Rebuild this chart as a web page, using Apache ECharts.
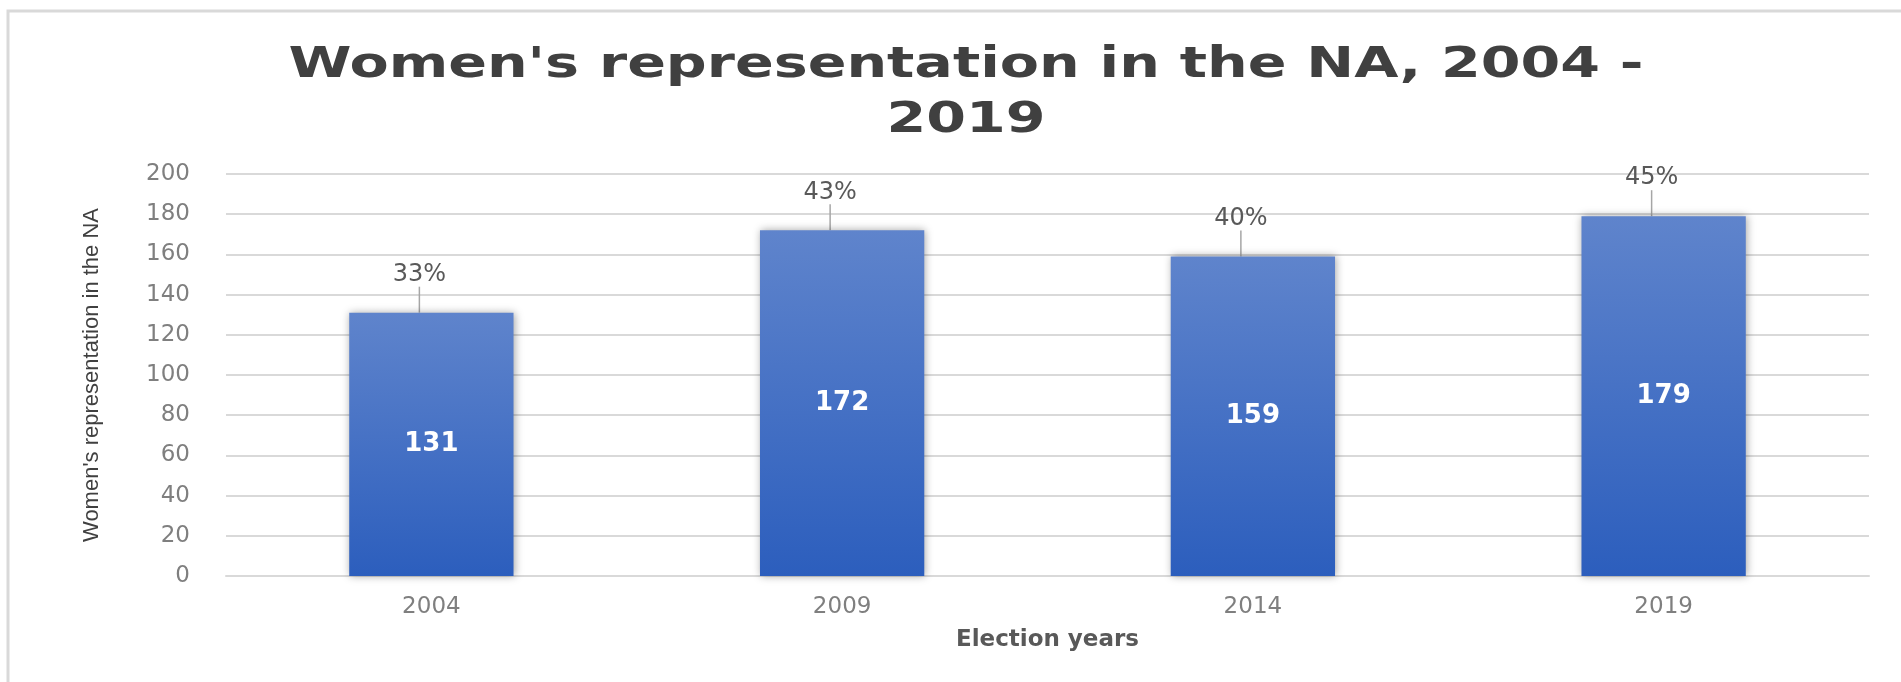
<!DOCTYPE html>
<html>
<head>
<meta charset="utf-8">
<title>Women's representation in the NA</title>
<script src="https://cdn.jsdelivr.net/npm/echarts@6/dist/echarts.min.js"></script>
<style>
  html, body { margin: 0; padding: 0; background: #fff; }
  #chart { width: 1901px; height: 682px; }
</style>
</head>
<body>
<div id="chart"></div>
<script>
// 数据
var years = ['2004', '2009', '2014', '2019'];
var womenSeats = [131, 172, 159, 179];
var womenShare = ['33%', '43%', '40%', '45%'];

var myChart = echarts.init(document.getElementById('chart'));

var barFill = new echarts.graphic.LinearGradient(0, 0, 0, 1, [
  { offset: 0, color: '#5f84cc' },
  { offset: 1, color: '#2c5ebd' }
]);

var option = {
  backgroundColor: '#fff',
  animation: false,
  graphic: [
    {
      type: 'rect',
      z: -10,
      shape: { x: 8, y: 11, width: 2000, height: 1000 },
      style: { fill: 'none', stroke: '#d9d9d9', lineWidth: 3 }
    },
    {
      // title, stretched like the reference
      type: 'text',
      x: 966,
      y: 94,
      scaleX: 1.36,
      style: {
        text: "Women's representation in the NA, 2004 -\n2019",
        font: 'bold 42px "DejaVu Sans"',
        fill: '#404040',
        textAlign: 'center',
        textVerticalAlign: 'middle',
        lineHeight: 55
      }
    }
  ],
  grid: { left: 226, right: 32, top: 174, bottom: 106 },
  xAxis: {
    type: 'category',
    data: years,
    axisTick: { show: false },
    axisLine: { lineStyle: { color: '#d9d9d9', width: 2 } },
    axisLabel: {
      margin: 20,
      color: '#7f7f7f',
      fontSize: 23,
      fontFamily: 'DejaVu Sans'
    },
    name: 'Election years',
    nameLocation: 'middle',
    nameGap: 53,
    nameTextStyle: {
      color: '#595959',
      fontSize: 23,
      fontWeight: 'bold',
      fontFamily: 'DejaVu Sans'
    }
  },
  yAxis: {
    type: 'value',
    min: 0,
    max: 200,
    interval: 20,
    axisLine: { show: false },
    axisTick: { show: false },
    splitLine: { lineStyle: { color: '#d9d9d9', width: 2 } },
    axisLabel: {
      margin: 36,
      color: '#7f7f7f',
      fontSize: 23,
      fontFamily: 'DejaVu Sans'
    },
    name: "Women's representation in the NA",
    nameLocation: 'middle',
    nameGap: 123,
    nameTextStyle: {
      color: '#404040',
      fontSize: 22,
      fontFamily: '"Liberation Sans Narrow", "Liberation Sans", sans-serif'
    }
  },
  series: [
    {
      name: 'seats',
      type: 'bar',
      barWidth: '40%',
      data: womenSeats,
      itemStyle: {
        color: barFill,
        shadowBlur: 8,
        shadowColor: 'rgba(0,0,0,0.35)',
        shadowOffsetX: 1
      },
      label: {
        show: true,
        position: 'inside',
        color: '#fff',
        fontSize: 26,
        fontWeight: 'bold',
        fontFamily: 'DejaVu Sans'
      }
    },
    {
      // 百分比标签（带引导线）
      name: 'share',
      type: 'bar',
      barWidth: '40%',
      barGap: '-100%',
      silent: true,
      data: womenSeats,
      itemStyle: { color: 'rgba(0,0,0,0)' },
      label: {
        show: true,
        position: 'top',
        distance: 4,
        color: '#595959',
        fontSize: 24,
        fontFamily: 'DejaVu Sans',
        formatter: function (p) { return womenShare[p.dataIndex]; }
      },
      labelLayout: { dx: -12, dy: -22 },
      labelLine: {
        show: true,
        lineStyle: { color: '#a6a6a6', width: 1.5 }
      }
    }
  ]
};

myChart.setOption(option);
</script>
</body>
</html>
